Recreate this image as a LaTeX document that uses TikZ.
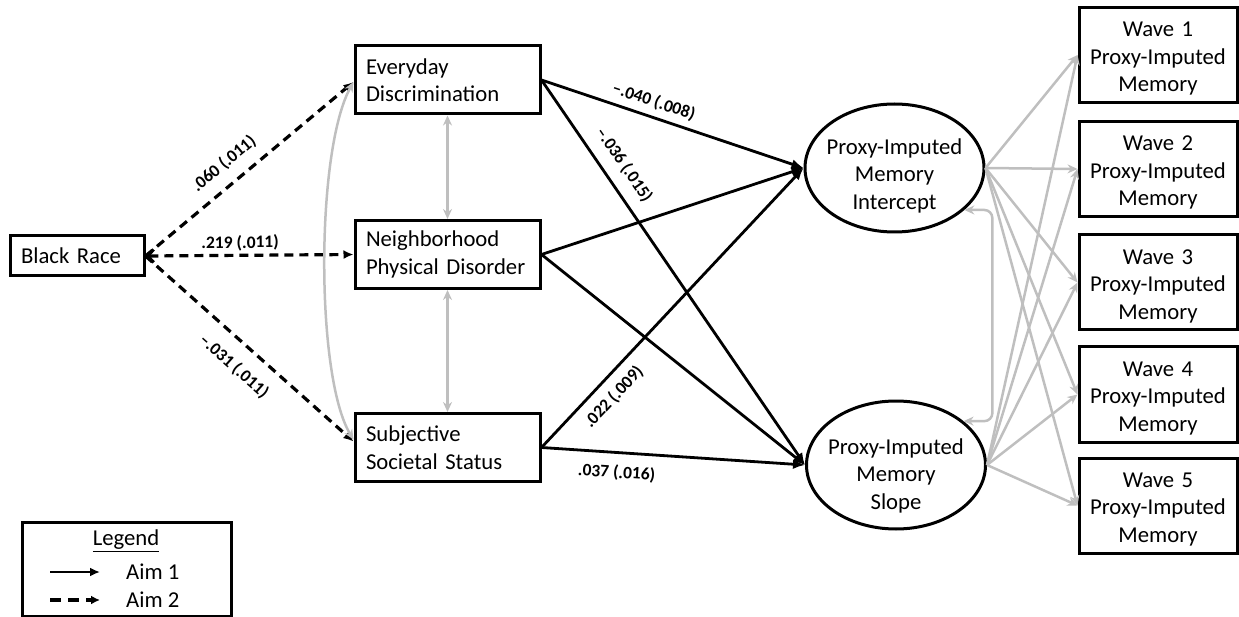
\documentclass[tikz,border=0pt]{standalone}
\usepackage{fontspec}
\setmainfont{Carlito}
\usetikzlibrary{arrows.meta,shapes.geometric,calc}
\definecolor{lgray}{RGB}{191,191,191}
\begin{document}
\begin{tikzpicture}[x=1pt,y=-1pt,
  every node/.style={font=\fontsize{22.7}{27.5}\selectfont},
  box/.style={draw,line width=3pt,rectangle,inner ysep=0pt},
  medbox/.style={box,text width=163pt,align=left,inner xsep=11pt,minimum height=68pt},
  wavebox/.style={box,text width=150pt,align=center,inner xsep=4pt,minimum height=95pt},
  latent/.style={draw,ellipse,line width=3pt,minimum width=179pt,minimum height=128pt,inner xsep=-6pt,inner ysep=-8pt,align=center},
  aimone/.style={line width=2.8pt,-{Latex[length=12pt,width=10pt]}},
  aimtwo/.style={line width=3.2pt,dash pattern=on 9pt off 6pt,-{Latex[length=10pt,width=9pt]}},
  cov/.style={draw=lgray,line width=2.5pt,{Stealth[length=10pt,width=9pt]}-{Stealth[length=10pt,width=9pt]}},
  load/.style={draw=lgray,line width=2.5pt,-{Stealth[length=10pt,width=9pt]}},
  est/.style={font={\fontsize{17.5}{20}\selectfont\bfseries},inner sep=2pt,sloped}
]
\useasboundingbox (0,0) rectangle (1239,617);

% nodes
\node[box,text width=112pt,align=left,inner xsep=11pt,minimum height=40pt] (br) at (77,256) {Black Race};
\node[medbox] (ed) at (447.5,80) {Everyday\\Discrimination};
\node[medbox] (np) at (447.5,254.5) {Neighborhood\\Physical Disorder};
\node[medbox] (ss) at (447.5,447.5) {Subjective\\Societal Status};
\node[latent] (ic) at (894.5,168) {\rule{0pt}{31pt}Proxy-Imputed\\Memory\\Intercept};
\node[latent] (sl) at (896,465) {\rule{0pt}{37pt}Proxy-Imputed\\Memory\\Slope};
\node[wavebox] (w1) at (1158,55) {\rule{0pt}{22pt}Wave 1\\Proxy-Imputed\\Memory};
\node[wavebox] (w2) at (1158,169) {\rule{0pt}{22pt}Wave 2\\Proxy-Imputed\\Memory};
\node[wavebox] (w3) at (1158,282.5) {\rule{0pt}{22pt}Wave 3\\Proxy-Imputed\\Memory};
\node[wavebox] (w4) at (1158,394.5) {\rule{0pt}{22pt}Wave 4\\Proxy-Imputed\\Memory};
\node[wavebox] (w5) at (1158,505.5) {\rule{0pt}{22pt}Wave 5\\Proxy-Imputed\\Memory};

% Aim 2 paths
\draw[aimtwo] (br.east) -- ([yshift=-2pt]ed.west) node[est,pos=0.44,above=9pt] {.060 (.011)};
\draw[aimtwo,{Straight Barb[length=6pt,width=13pt]}-{Latex[length=10pt,width=9pt]}] (br.east) -- (np.west) node[est,pos=0.455,above=1pt] {.219 (.011)};
\draw[aimtwo] (br.east) -- ([yshift=6pt]ss.west) node[est,pos=0.5,below=12pt] {--.031 (.011)};

% Aim 1 paths
\draw[aimone] (ed.east) -- (ic.west) node[est,pos=0.41,above=4pt] {--.040 (.008)};
\draw[aimone] (ed.east) -- (sl.west) node[est,pos=0.25,above=9pt] {--.036 (.015)};
\draw[aimone] (np.east) -- (ic.west);
\draw[aimone] (np.east) -- (sl.west);
\draw[aimone] (ss.east) -- (ic.west) node[est,pos=0.225,below=7pt] {.022 (.009)};
\draw[aimone] (ss.east) -- (sl.west) node[est,pos=0.29,below=9pt] {.037 (.016)};

% covariances
\draw[cov] (ed.south) -- (np.north);
\draw[cov] (np.south) -- (ss.north);
\draw[cov] ([yshift=-2pt]ed.west) .. controls ($(ed.west)+(-38,70)$) and ($(ss.west)+(-38,-70)$) .. ([yshift=8pt]ss.west);
\draw[cov,rounded corners=8pt] (ic.-31) -- ++(28,0) |- (sl.33);

% loadings
\foreach \i in {1,...,5} {
  \draw[load] (ic.east) -- (w\i.west);
  \draw[load] (sl.east) -- (w\i.west);
}

% legend
\node[draw,line width=3pt,minimum width=209pt,minimum height=94pt,inner sep=0pt] (lg) at (126.5,569) {};
\node[inner sep=0pt] (lgt) at (126,541) {\underline{Legend}};
\coordinate (a1s) at (50,572);
\coordinate (a1e) at (100,572);
\coordinate (a2s) at (50,600);
\coordinate (a2e) at (100,600);
\draw[line width=2.8pt,-{Latex[length=10pt,width=9pt]}] (a1s) -- (a1e);
\draw[line width=3.2pt,dash pattern=on 11pt off 7pt,-{Latex[length=9pt,width=9pt]}] (a2s) -- (a2e);
\node[anchor=west,inner sep=0pt] (a1) at (126,572) {Aim 1};
\node[anchor=west,inner sep=0pt] (a2) at (126,600) {Aim 2};
\end{tikzpicture}
\end{document}
